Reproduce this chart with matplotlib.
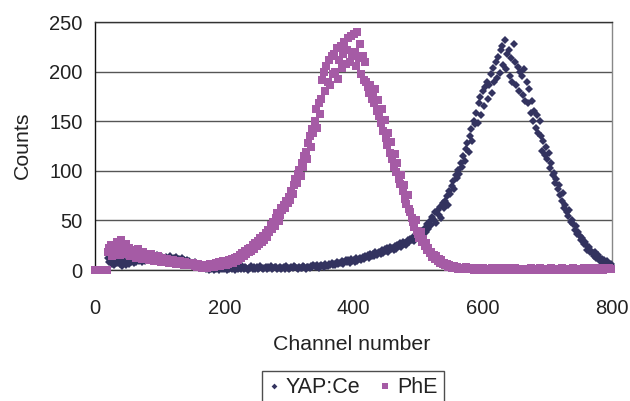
import numpy as np
import matplotlib
matplotlib.use("Agg")
import matplotlib.pyplot as plt

plt.rcParams['font.family'] = ['Liberation Sans', 'DejaVu Sans']

# channel numbers (every 2nd channel)
channel = np.arange(0, 800, 2)

# YAP:Ce counts
yap_counts = [
    0, 0, 0, 0, 0, 0, 0, 0, 0, 0,
    12, 8, 15, 6, 10, 5, 9, 7, 11, 6,
    8, 4, 10, 7, 5, 9, 6, 11, 8, 10,
    7, 10, 8, 12, 9, 11, 8, 10, 13, 9,
    12, 10, 14, 11, 13, 10, 13, 11, 15, 12,
    14, 11, 13, 10, 12, 13, 10, 12, 14, 11,
    9, 12, 10, 13, 8, 11, 9, 12, 8, 10,
    8, 10, 7, 9, 6, 7, 5, 8, 4, 6,
    5, 3, 4, 2, 4, 3, 1, 2, 0, 2,
    1, 3, 0, 2, 1, 2, 0, 3, 1, 2,
    1, 2, 0, 3, 1, 2, 1, 3, 0, 2,
    3, 1, 2, 1, 4, 1, 3, 2, 0, 2,
    2, 4, 1, 3, 1, 3, 1, 2, 4, 2,
    1, 2, 3, 1, 3, 2, 4, 1, 2, 3,
    3, 1, 2, 3, 1, 2, 3, 1, 4, 2,
    1, 2, 3, 2, 4, 3, 2, 1, 3, 2,
    2, 4, 3, 1, 3, 3, 2, 4, 3, 5,
    4, 3, 5, 2, 4, 5, 4, 3, 6, 4,
    4, 6, 5, 7, 5, 6, 5, 8, 6, 7,
    7, 9, 6, 8, 10, 8, 10, 7, 11, 9,
    10, 8, 12, 9, 11, 12, 10, 13, 11, 14,
    13, 15, 12, 16, 14, 16, 14, 18, 15, 17,
    18, 16, 20, 17, 21, 19, 22, 18, 23, 21,
    22, 20, 24, 21, 25, 24, 27, 23, 28, 26,
    27, 25, 30, 28, 31, 30, 33, 29, 34, 32,
    32, 36, 33, 39, 35, 42, 38, 46, 41, 49,
    45, 53, 50, 58, 47, 60, 55, 64, 52, 68,
    62, 70, 75, 66, 80, 77, 85, 90, 82, 96,
    93, 101, 97, 108, 104, 115, 110, 122, 128, 119,
    135, 142, 130, 150, 147, 158, 148, 168, 174, 156,
    180, 165, 184, 190, 172, 186, 198, 178, 204, 190,
    210, 194, 215, 199, 222, 226, 207, 232, 203, 218,
    222, 196, 214, 190, 228, 210, 186, 205, 180, 200,
    196, 176, 203, 170, 190, 168, 182, 158, 170, 150,
    160, 143, 156, 138, 150, 135, 120, 130, 116, 124,
    112, 118, 103, 108, 96, 98, 88, 92, 82, 86,
    76, 70, 78, 62, 66, 58, 54, 60, 48, 50,
    46, 40, 44, 36, 38, 34, 30, 32, 26, 28,
    25, 20, 23, 18, 19, 17, 14, 18, 12, 15,
    12, 9, 11, 8, 10, 7, 9, 5, 4, 6,
]

# PhE counts
phe_counts = [
    0, 0, 0, 0, 0, 0, 0, 0, 0, 0,
    18, 22, 25, 14, 20, 24, 17, 28, 21, 15,
    30, 19, 23, 16, 26, 18, 22, 14, 20, 17,
    15, 19, 12, 21, 14, 16, 11, 18, 13, 15,
    12, 14, 10, 16, 11, 13, 9, 12, 10, 14,
    11, 8, 12, 9, 10, 9, 11, 7, 10, 8,
    10, 7, 9, 6, 8, 7, 9, 6, 8, 5,
    8, 6, 7, 5, 7, 5, 7, 4, 6, 3,
    6, 4, 5, 2, 4, 3, 5, 2, 4, 6,
    4, 6, 3, 5, 7, 5, 8, 4, 6, 9,
    7, 5, 9, 6, 10, 8, 11, 7, 12, 9,
    13, 10, 15, 12, 17, 14, 19, 16, 21, 18,
    22, 19, 25, 21, 27, 24, 29, 26, 32, 28,
    34, 30, 37, 33, 40, 38, 45, 41, 48, 44,
    52, 57, 49, 55, 62, 60, 66, 63, 70, 68,
    74, 71, 80, 77, 86, 92, 88, 97, 101, 95,
    108, 104, 115, 119, 112, 128, 135, 124, 142, 138,
    150, 162, 143, 168, 157, 172, 192, 200, 180, 206,
    190, 212, 186, 216, 198, 218, 200, 224, 193, 212,
    226, 204, 218, 230, 208, 222, 234, 210, 236, 216,
    238, 220, 206, 240, 214, 228, 198, 216, 192, 210,
    190, 184, 178, 186, 172, 176, 168, 182, 160, 171,
    155, 148, 162, 140, 151, 133, 126, 138, 118, 129,
    112, 104, 117, 99, 108, 92, 87, 96, 80, 86,
    72, 67, 76, 61, 58, 52, 48, 43, 50, 39,
    36, 32, 38, 28, 31, 24, 27, 20, 22, 17,
    18, 13, 15, 11, 14, 9, 11, 7, 10, 6,
    7, 5, 6, 3, 5, 4, 2, 3, 4, 2,
    3, 1, 2, 2, 1, 2, 1, 3, 1, 2,
    1, 2, 1, 0, 2, 1, 0, 2, 1, 1,
    2, 1, 0, 1, 1, 0, 1, 2, 1, 0,
    1, 0, 1, 2, 1, 0, 1, 1, 0, 2,
    1, 0, 1, 1, 0, 2, 1, 0, 1, 1,
    0, 1, 1, 0, 1, 1, 0, 2, 1, 0,
    1, 1, 0, 1, 2, 0, 1, 1, 0, 1,
    1, 0, 1, 2, 0, 1, 1, 0, 1, 1,
    0, 2, 1, 0, 1, 1, 0, 1, 1, 0,
    2, 1, 0, 1, 1, 0, 1, 1, 2, 0,
    1, 0, 1, 1, 2, 1, 1, 0, 2, 1,
    2, 1, 1, 0, 2, 1, 2, 1, 2, 1,
]

navy = '#33335f'
magenta = '#a55ba5'

fig = plt.figure(figsize=(6.3, 4.01), dpi=100)
ax = fig.add_axes([95/630, 1 - 270/401, 517/630, 248/401])

ax.plot(channel, yap_counts, linestyle='none', marker='D', markersize=4.2,
        markeredgewidth=0, color=navy, label='YAP:Ce', clip_on=False, zorder=3)
ax.plot(channel, phe_counts, linestyle='none', marker='s', markersize=5.2,
        markeredgewidth=0, color=magenta, label='PhE', clip_on=False, zorder=4)

ax.set_xlim(0, 800)
ax.set_ylim(0, 250)
ax.set_xticks([0, 200, 400, 600, 800])
ax.set_yticks([0, 50, 100, 150, 200, 250])
ax.tick_params(length=0, labelsize=14.5, colors='#222222')
ax.tick_params(axis='x', pad=21)
ax.tick_params(axis='y', pad=9)
ax.grid(axis='y', color='#555555', linewidth=1)
ax.set_axisbelow(True)

ax.spines['left'].set_color('#111111')
ax.spines['bottom'].set_color('#333333')
ax.spines['top'].set_color('#333333')
ax.spines['right'].set_color('#888888')
for s in ax.spines.values():
    s.set_linewidth(1)

fig.text(22/630, 1 - 145/401, 'Counts', rotation=90, ha='center', va='center',
         fontsize=15.3, color='#222222')
fig.text(352/630, 1 - 344/401, 'Channel number', ha='center', va='center',
         fontsize=15.3, color='#222222')

leg = fig.legend(loc='upper center', bbox_to_anchor=(353/630, 1 - 371/401),
                 ncol=2, frameon=True, fancybox=False, fontsize=15.5,
                 handlelength=0.5, handletextpad=0.3, columnspacing=0.9,
                 borderpad=0.3, borderaxespad=0, markerscale=0.7)
leg.get_frame().set_edgecolor('#222222')
leg.get_frame().set_linewidth(1)
for t in leg.get_texts():
    t.set_color('#222222')

fig.savefig('out.png', dpi=100)
